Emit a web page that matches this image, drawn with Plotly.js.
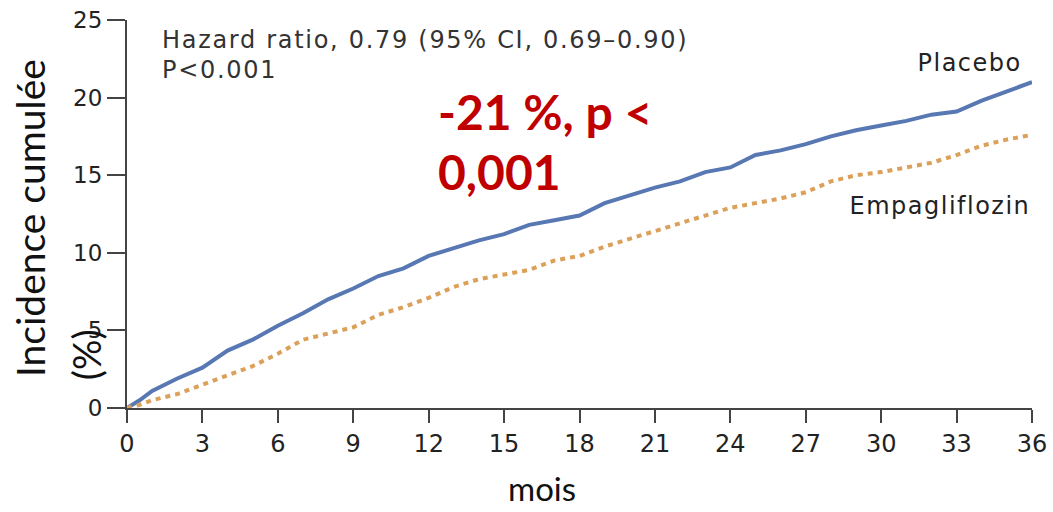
<!DOCTYPE html>
<html>
<head>
<meta charset="utf-8">
<script src="https://cdn.plot.ly/plotly-3.0.1.min.js"></script>
<style>
html,body{margin:0;padding:0;background:#fff;}#chart{width:1053px;height:512px;}
#chart g.annotation[data-index="0"] text, #chart g.annotation[data-index="1"] text{letter-spacing:1.7px;}
#chart g.annotation[data-index="2"] text, #chart g.annotation[data-index="3"] text{letter-spacing:1.5px;}
</style>
</head>
<body>
<div id="chart"></div>
<script>
const months = [0,0.5,1,2,3,4,5,6,7,8,9,10,11,12,13,14,15,16,17,18,19,20,21,22,23,24,25,26,27,28,29,30,31,32,33,34,35,36];
const placebo = [0,0.5,1.1,1.9,2.6,3.7,4.4,5.3,6.1,7.0,7.7,8.5,9.0,9.8,10.3,10.8,11.2,11.8,12.1,12.4,13.2,13.7,14.2,14.6,15.2,15.5,16.3,16.6,17.0,17.5,17.9,18.2,18.5,18.9,19.1,19.8,20.4,21.0];
const empagliflozin = [0,0.2,0.5,0.9,1.5,2.1,2.7,3.5,4.4,4.8,5.2,6.0,6.5,7.1,7.8,8.3,8.6,8.9,9.5,9.8,10.4,10.9,11.4,11.9,12.4,12.9,13.2,13.5,13.9,14.6,15.0,15.2,15.5,15.8,16.3,16.9,17.3,17.6];
const xTicks = [0,3,6,9,12,15,18,21,24,27,30,33,36];
const yTicks = [0,5,10,15,20,25];
const seriesNames = ["Placebo","Empagliflozin"];

const traces = [
  {x: months, y: placebo, name: seriesNames[0], mode: 'lines', line: {color: '#5878B4', width: 4}},
  {x: months, y: empagliflozin, name: seriesNames[1], mode: 'lines', line: {color: '#DBA05A', width: 4, dash: '5px,5px'}}
];

const nejm = '"DejaVu Sans", Verdana, sans-serif';
const layout = {
  width: 1053, height: 512,
  margin: {l: 127, r: 21, t: 20, b: 104},
  paper_bgcolor: '#fff', plot_bgcolor: '#fff',
  showlegend: false,
  xaxis: {range: [0,36], tickvals: xTicks, ticktext: xTicks.map(String), showgrid: false, zeroline: false,
    showline: true, linecolor: '#444', linewidth: 2, ticks: 'outside', ticklen: 13, tickwidth: 2, tickcolor: '#444',
    tickfont: {family: nejm, size: 24, color: '#222'}, fixedrange: true},
  yaxis: {range: [0,25], tickvals: yTicks, ticktext: yTicks.map(String), showgrid: false, zeroline: false,
    showline: true, linecolor: '#444', linewidth: 2, ticks: 'outside', ticklen: 18, tickwidth: 2, tickcolor: '#444',
    tickfont: {family: nejm, size: 23, color: '#222'}, fixedrange: true},
  annotations: [
    {xref: 'paper', yref: 'paper', x: 0.036, y: 0.949, xanchor: 'left', yanchor: 'middle', showarrow: false, align: 'left',
     text: 'Hazard ratio, 0.79 (95% CI, 0.69–0.90)', font: {family: nejm, size: 24, color: '#333'}},
    {xref: 'paper', yref: 'paper', x: 0.036, y: 0.871, xanchor: 'left', yanchor: 'middle', showarrow: false, align: 'left',
     text: 'P<0.001', font: {family: nejm, size: 24, color: '#333'}},
    {xref: 'x', yref: 'y', x: 35.7, y: 22.2, xanchor: 'right', yanchor: 'middle', showarrow: false, align: 'right',
     text: 'Placebo', font: {family: nejm, size: 24, color: '#222'}},
    {xref: 'x', yref: 'y', x: 36.0, y: 13.0, xanchor: 'right', yanchor: 'middle', showarrow: false, align: 'right',
     text: 'Empagliflozin', font: {family: nejm, size: 24, color: '#222'}},
    {xref: 'paper', yref: 'paper', x: 0.341, y: 0.765, xanchor: 'left', yanchor: 'middle', showarrow: false, align: 'left',
     text: '<b>-21 %, p <</b>', font: {family: 'Lato, sans-serif', size: 48, color: '#C00000'}},
    {xref: 'paper', yref: 'paper', x: 0.341, y: 0.61, xanchor: 'left', yanchor: 'middle', showarrow: false, align: 'left',
     text: '<b>0,001</b>', font: {family: 'Lato, sans-serif', size: 48, color: '#C00000'}},
    {xref: 'paper', yref: 'paper', x: -0.107, y: 0.49, xanchor: 'center', yanchor: 'middle', showarrow: false, textangle: -90,
     text: 'Incidence cumulée', font: {family: 'Lato, sans-serif', size: 39, color: '#111'}},
    {xref: 'paper', yref: 'paper', x: -0.046, y: 0.137, xanchor: 'center', yanchor: 'middle', showarrow: false, textangle: -90,
     text: '(%)', font: {family: 'Lato, sans-serif', size: 38, color: '#111'}},
    {xref: 'paper', yref: 'paper', x: 0.459, y: -0.205, xanchor: 'center', yanchor: 'middle', showarrow: false,
     text: 'mois', font: {family: 'Lato, sans-serif', size: 33, color: '#111'}}
  ]
};
Plotly.newPlot('chart', traces, layout, {staticPlot: true, displayModeBar: false});
</script>
</body>
</html>
